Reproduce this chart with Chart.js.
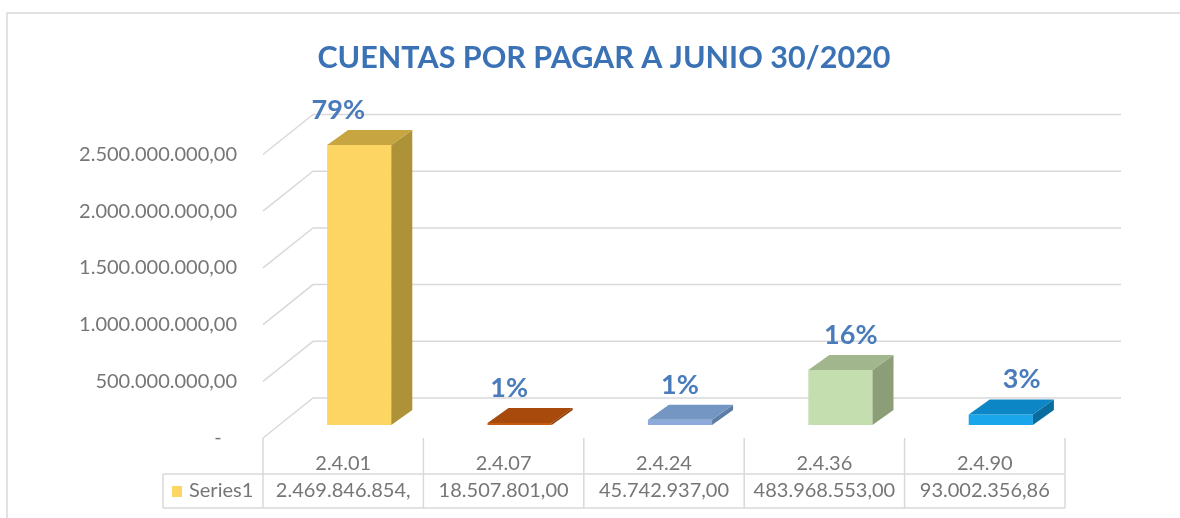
<!DOCTYPE html>
<html>
<head>
<meta charset="utf-8">
<title>Cuentas por pagar</title>
<script src="https://cdn.jsdelivr.net/npm/chart.js@4.4.1/dist/chart.umd.min.js"></script>
<style>
  html, body { margin: 0; padding: 0; background: #fff; }
  canvas { display: block; }
</style>
</head>
<body>
<canvas id="grafico" width="1180" height="518"></canvas>
<script>
const categorias = ["2.4.01", "2.4.07", "2.4.24", "2.4.36", "2.4.90"];
const valores = [2469846854.00, 18507801.00, 45742937.00, 483968553.00, 93002356.86];
const nombreSerie = "Series1";
const tituloGrafico = "CUENTAS POR PAGAR A JUNIO 30/2020";

const coloresFrente = ["#fdd562", "#c55a11", "#8eaadb", "#c5deb0", "#19a6ea"];
const coloresLado = ["#ae9238", "#8a3a08", "#5d7da6", "#8b9e78", "#0a6c9e"];
const coloresArriba = ["#c7a540", "#a84a0c", "#7397c2", "#a2b68d", "#0c86c5"];

const FUENTE = "Lato, 'Open Sans', sans-serif";
const GRIS_LINEA = "#d9d9d9";
const GRIS_TEXTO = "#767676";

// desplazamientos de la vista 3D (frente de la barra = plano del chartArea)
const PROF = { x: 21, y: -15 };      // profundidad de cada barra
const BORDE = { x: -16, y: 13 };     // borde delantero del piso / pared
const FONDO = { x: 34, y: -27 };     // pared del fondo

function formatoES(n) {
  const [ent, dec] = n.toFixed(2).split(".");
  return ent.replace(/\B(?=(\d{3})+(?!\d))/g, ".") + "," + dec;
}

const total = valores.reduce((a, b) => a + b, 0);

const efecto3D = {
  id: "efecto3D",
  beforeDatasetsDraw(chart) {
    const { ctx, chartArea: area, scales: { x, y } } = chart;
    ctx.save();
    ctx.strokeStyle = GRIS_LINEA;
    ctx.lineWidth = 1.5;

    // marco exterior
    ctx.beginPath();
    ctx.moveTo(7, chart.height);
    ctx.lineTo(7, 13);
    ctx.lineTo(chart.width, 13);
    ctx.stroke();

    // titulo
    ctx.font = "bold 30.5px " + FUENTE;
    ctx.fillStyle = "#3a72b5";
    ctx.textAlign = "center";
    ctx.textBaseline = "middle";
    ctx.fillText(tituloGrafico, 604, 58);

    // pared lateral + pared del fondo
    y.ticks.forEach(t => {
      const py = y.getPixelForValue(t.value);
      ctx.beginPath();
      ctx.moveTo(area.left + BORDE.x, py + BORDE.y);
      ctx.lineTo(area.left + FONDO.x, py + FONDO.y);
      ctx.lineTo(area.right + FONDO.x + 6, py + FONDO.y);
      ctx.stroke();
    });

    // tabla de datos
    const anchoCat = (area.right - area.left) / categorias.length;
    const cabTop = area.bottom + BORDE.y;
    const filaTop = area.bottom + 49;
    const filaBot = area.bottom + 83;
    const izq = 163;
    const limites = [];
    for (let i = 0; i <= categorias.length; i++) limites.push(area.left + BORDE.x + i * anchoCat);
    const der = limites[limites.length - 1];

    ctx.beginPath();
    limites.forEach(lx => { ctx.moveTo(lx, cabTop); ctx.lineTo(lx, filaBot); });
    ctx.moveTo(izq, filaTop); ctx.lineTo(izq, filaBot);
    ctx.moveTo(izq, filaTop); ctx.lineTo(der, filaTop);
    ctx.moveTo(izq, filaBot); ctx.lineTo(der, filaBot);
    ctx.stroke();

    const yTexto = (filaTop + filaBot) / 2;
    ctx.fillStyle = coloresFrente[0];
    ctx.fillRect(172, yTexto - 5, 10, 11);
    ctx.font = "20px " + FUENTE;
    ctx.fillStyle = GRIS_TEXTO;
    ctx.textAlign = "left";
    ctx.fillText(nombreSerie, 189, yTexto);

    ctx.textAlign = "center";
    valores.forEach((v, i) => {
      let txt = formatoES(v);
      // como en Excel: si no cabe en la celda se pierden los decimales
      if (ctx.measureText(txt).width > anchoCat - 5) txt = txt.replace(/\d+$/, "");
      ctx.fillText(txt, x.getPixelForValue(i) + BORDE.x, yTexto);
    });
    ctx.restore();
  },
  afterDatasetsDraw(chart) {
    const { ctx, chartArea: area } = chart;
    const centro = (area.left + area.right) / 2;
    const meta = chart.getDatasetMeta(0);
    ctx.save();
    meta.data.forEach((bar, i) => {
      const { x: bx, y: by, base, width } = bar.getProps(["x", "y", "base", "width"], true);
      const l = bx - width / 2, r = bx + width / 2;

      // lado derecho
      ctx.fillStyle = coloresLado[i];
      ctx.beginPath();
      ctx.moveTo(r, by);
      ctx.lineTo(r + PROF.x, by + PROF.y);
      ctx.lineTo(r + PROF.x, base + PROF.y);
      ctx.lineTo(r, base);
      ctx.closePath();
      ctx.fill();

      // tapa
      ctx.fillStyle = coloresArriba[i];
      ctx.beginPath();
      ctx.moveTo(l, by);
      ctx.lineTo(l + PROF.x, by + PROF.y);
      ctx.lineTo(r + PROF.x, by + PROF.y);
      ctx.lineTo(r, by);
      ctx.closePath();
      ctx.fill();

      // porcentaje
      const pct = Math.round(valores[i] / total * 100) + "%";
      ctx.font = "bold 27px " + FUENTE;
      ctx.fillStyle = "#4a7cbb";
      ctx.textAlign = "center";
      ctx.textBaseline = "middle";
      ctx.fillText(pct, bx + (bx - centro) * 0.065, by - 35);
    });
    ctx.restore();
  }
};

new Chart(document.getElementById("grafico"), {
  type: "bar",
  data: {
    labels: categorias,
    datasets: [{
      label: nombreSerie,
      data: valores,
      backgroundColor: coloresFrente,
      borderWidth: 0,
      barPercentage: 0.4,
      categoryPercentage: 1
    }]
  },
  options: {
    responsive: false,
    animation: false,
    layout: { padding: { left: 0, right: 99, top: 141.5, bottom: 0 } },
    plugins: {
      legend: { display: false },
      tooltip: { enabled: false },
      title: { display: false }
    },
    scales: {
      x: {
        grid: { display: false },
        border: { display: false },
        ticks: {
          color: GRIS_TEXTO,
          font: { family: FUENTE, size: 20 },
          labelOffset: BORDE.x,
          padding: 19,
          maxRotation: 0
        },
        afterFit: s => { s.height = 93; }
      },
      y: {
        min: 0,
        max: 2500000000,
        grid: { display: false },
        border: { display: false },
        ticks: {
          stepSize: 500000000,
          color: GRIS_TEXTO,
          font: { family: FUENTE, size: 20 },
          padding: 34,
          labelOffset: BORDE.y,
          callback: v => v === 0 ? "-   " : formatoES(v)
        },
        afterFit: s => { s.width = 279; }
      }
    }
  },
  plugins: [efecto3D]
});
</script>
</body>
</html>
